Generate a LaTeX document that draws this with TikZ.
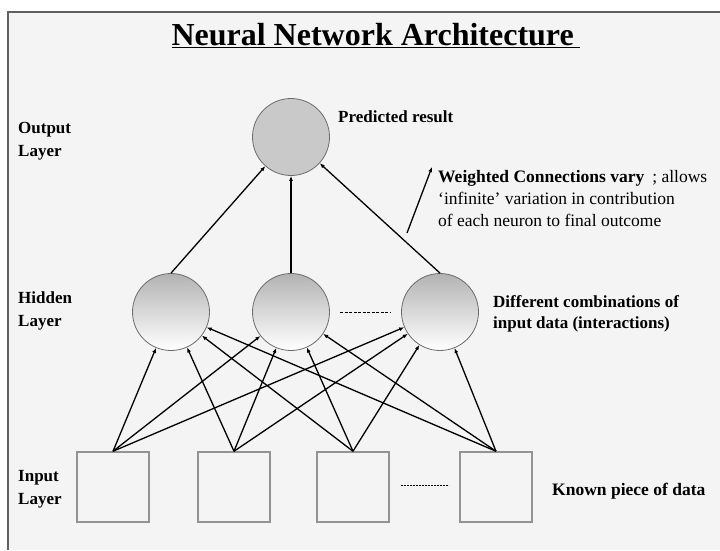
\documentclass[tikz,border=0pt]{standalone}
\usepackage{fontspec}
\setmainfont{Liberation Serif}
\usepackage{tikz}
\usetikzlibrary{
    arrows.meta
}

\begin{document}
\begin{tikzpicture}[x=1pt,y=-1pt,
    neuron/.style={circle, draw=gray!85!black, line width=0.8pt,
        minimum size=77pt, inner sep=0pt},
    databox/.style={draw=gray!85, line width=1.5pt,
        minimum width=72pt, minimum height=70pt, inner sep=0pt},
    conn/.style={line width=1.3pt, -{Latex[length=5pt,width=4pt]}},
    layerlabel/.style={font=\fontsize{17}{23}\selectfont\bfseries,
        align=left, inner sep=0pt, anchor=base west},
    note/.style={font=\fontsize{17.5}{22}\selectfont,
        align=left, inner sep=0pt, anchor=base west}
]

% Page and frame
\useasboundingbox (0,0) rectangle (720,550);
\fill[white] (0,0) rectangle (720,550);
\fill[gray!9] (8,12) rectangle (720,550);
\draw[gray!75!black, line width=2pt] (8,550) -- (8,12) -- (720,12);

% Title
\node[font=\fontsize{32}{36}\selectfont\bfseries, anchor=base west] (title)
    at (168,45) {\underline{Neural Network Architecture\hspace{6pt}}};

% Output neuron
\node[neuron, fill=gray!42] (out) at (291,137) {};

% Hidden neurons
\node[neuron, top color=gray!60, bottom color=white] (hid1) at (171,312) {};
\node[neuron, top color=gray!60, bottom color=white] (hid2) at (291,312) {};
\node[neuron, top color=gray!60, bottom color=white] (hid3) at (440,312) {};

% Input boxes
\node[databox] (in1) at (113,487) {};
\node[databox] (in2) at (234,487) {};
\node[databox] (in3) at (353,487) {};
\node[databox] (in4) at (496,487) {};

% Gaps in the layers
\coordinate (hgapA) at (340,312);
\coordinate (hgapB) at (390,312);
\draw[line width=0.8pt, dash pattern=on 3pt off 1.5pt] (hgapA) -- (hgapB);
\coordinate (igapA) at (401,485);
\coordinate (igapB) at (449,485);
\draw[line width=0.8pt, dash pattern=on 2pt off 1pt] (igapA) -- (igapB);

% Input to hidden
\foreach \i in {1,...,4}
  \foreach \j in {1,2,3}
    \draw[conn] (in\i.north) -- (hid\j);

% Hidden to output
\draw[conn] (hid1.north) -- (out);
\draw[conn] (hid2.north) -- (out);
\draw[conn] (hid3.north) -- (out);

% Weight pointer
\coordinate (wfrom) at (407,233);
\coordinate (wto) at (432,167);
\draw[conn] (wfrom) -- (wto);

% Layer names
\node[layerlabel] (outlbl) at (18,156) {Output\\Layer};
\node[layerlabel] (hidlbl) at (18,326) {Hidden\\Layer};
\node[layerlabel] (inlbl) at (18,504) {Input\\Layer};

% Notes
\node[note, font=\fontsize{17}{21}\selectfont\bfseries] (outnote)
    at (338,122) {Predicted result};
\node[note] (wnote) at (438,226)
    {\textbf{Weighted Connections vary}\hspace{8pt}; allows\\
     `infinite' variation in contribution\\
     of each neuron to final outcome};
\node[note, font=\fontsize{17}{21}\selectfont\bfseries] (hidnote)
    at (493,328) {Different combinations of\\input data (interactions)};
\node[note, font=\fontsize{17.5}{21}\selectfont\bfseries] (innote)
    at (552,495) {Known piece of data};

\end{tikzpicture}
\end{document}
